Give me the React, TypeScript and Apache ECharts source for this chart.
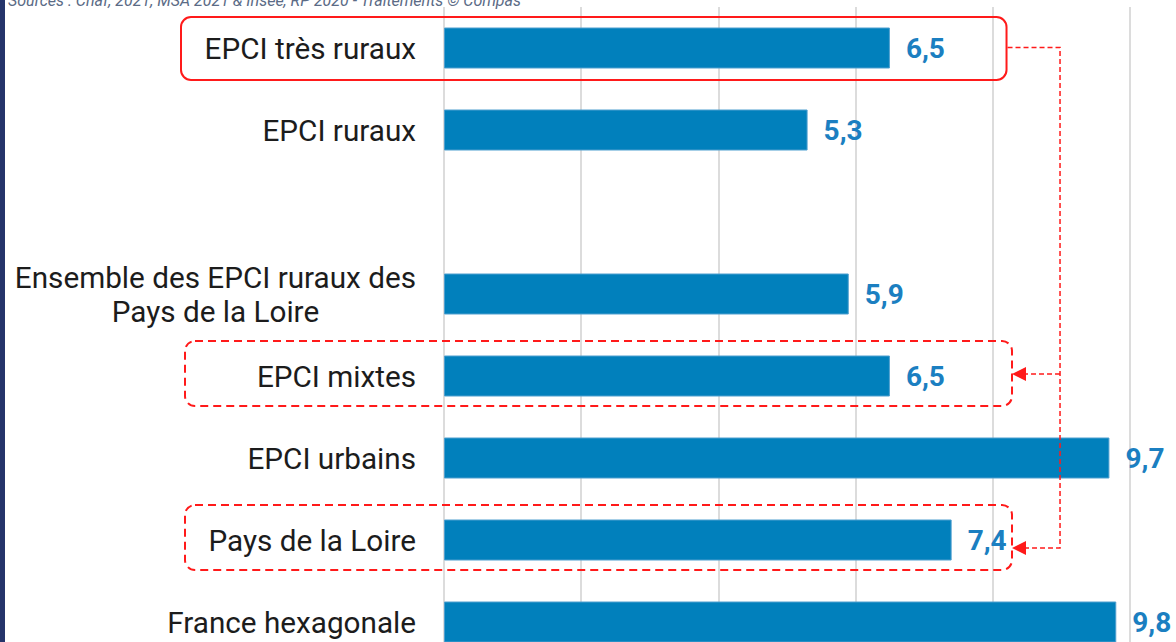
import React, { useEffect, useRef } from "react";
import * as echarts from "echarts";

const categories = [
  "EPCI très ruraux",
  "EPCI ruraux",
  "",
  "Ensemble des EPCI ruraux des\nPays de la Loire",
  "EPCI mixtes",
  "EPCI urbains",
  "Pays de la Loire",
  "France hexagonale",
];
const values: (number | null)[] = [6.5, 5.3, null, 5.9, 6.5, 9.7, 7.4, 9.8];
const sourceText = "Sources : Cnaf, 2021, MSA 2021 & Insee, RP 2020 - Traitements © Compas";
const xMin = 0;
const xMax = 10;
const xInterval = 2;

export default function App() {
  const ref = useRef<HTMLDivElement>(null);
  useEffect(() => {
    if (!ref.current) return;
    const chart = echarts.init(ref.current, null, { renderer: "svg" });
    chart.setOption({
      animation: false,
      backgroundColor: "#ffffff",
      grid: {
        left: 444,
        top: 7,
        width: 686,
        height: 656,
        containLabel: false,
        outerBoundsMode: "none",
      },
      xAxis: {
        type: "value",
        min: xMin,
        max: xMax,
        interval: xInterval,
        axisLabel: { show: false },
        axisLine: { show: false },
        axisTick: { show: false },
        splitLine: { show: true, lineStyle: { color: "#dcdcdc", width: 2 } },
      },
      yAxis: {
        type: "category",
        inverse: true,
        data: categories,
        axisLine: { show: false },
        axisTick: { show: false },
        axisLabel: {
          margin: 28,
          color: "#1c1c1c",
          fontSize: 29.7,
          fontFamily: "Roboto",
          lineHeight: 34,
          formatter: (v: string) =>
            v.includes("\n")
              ? v
                  .split("\n")
                  .map((s) => "{c|" + s + "}")
                  .join("\n")
              : v,
          rich: {
            c: { align: "center", fontSize: 29.7, fontFamily: "Roboto", color: "#1c1c1c", lineHeight: 34 },
          },
        },
      },
      series: [
        {
          type: "bar",
          data: values,
          barWidth: 41,
          itemStyle: { color: "#0180bc", borderColor: "#4f9fcf", borderWidth: 1 },
          label: {
            show: true,
            position: "right",
            distance: 16,
            color: "#1b7fc1",
            fontSize: 28,
            fontWeight: "bold",
            fontFamily: "Roboto",
            formatter: (p: any) => String(p.value).replace(".", ","),
          },
        },
      ],
    });

    const px = (v: number, c: number) => chart.convertToPixel({ gridIndex: 0 }, [v, c]) as number[];
    const x0 = px(0, 0)[0];
    const c0 = px(0, 0)[1];
    const cMix = px(0, 4)[1];
    const cPdl = px(0, 6)[1];
    const boxLeft = x0 - 263;
    const boxRightSolid = px(8.2, 0)[0];
    const boxRightDash = px(8.28, 0)[0];
    const connX = px(8.98, 0)[0];
    const red = "#ff1a1a";

    const arrow = (tipX: number, y: number) => ({
      type: "polygon",
      shape: { points: [[tipX, y], [tipX + 14, y - 7], [tipX + 14, y + 7]] },
      style: { fill: red },
      z: 100,
    });

    chart.setOption({
      graphic: [
        { type: "rect", shape: { x: 0, y: 0, width: 5, height: 642 }, style: { fill: "#25346a" }, z: 100 },
        {
          type: "text",
          x: 8,
          y: 0,
          style: {
            text: sourceText,
            fontSize: 16,
            fontStyle: "italic",
            fontFamily: "Roboto",
            fill: "#5b6b86",
            verticalAlign: "middle",
          },
          z: 100,
        },
        {
          type: "rect",
          shape: { x: boxLeft, y: c0 - 31, width: boxRightSolid - boxLeft, height: 63, r: 10 },
          style: { fill: "none", stroke: red, lineWidth: 2 },
          z: 100,
        },
        {
          type: "rect",
          shape: { x: boxLeft + 4, y: cMix - 35, width: boxRightDash - boxLeft - 4, height: 65, r: 10 },
          style: { fill: "none", stroke: red, lineWidth: 2, lineDash: [8, 5] },
          z: 100,
        },
        {
          type: "rect",
          shape: { x: boxLeft + 4, y: cPdl - 35, width: boxRightDash - boxLeft - 4, height: 65, r: 10 },
          style: { fill: "none", stroke: red, lineWidth: 2, lineDash: [8, 5] },
          z: 100,
        },
        {
          type: "polyline",
          shape: {
            points: [
              [boxRightSolid + 1, c0 - 0.5],
              [connX, c0 - 0.5],
              [connX, cPdl + 8],
              [boxRightDash + 12, cPdl + 8],
            ],
          },
          style: { fill: "none", stroke: red, lineWidth: 1.5, lineDash: [5, 3] },
          z: 100,
        },
        {
          type: "line",
          shape: { x1: connX, y1: cMix - 2, x2: boxRightDash + 12, y2: cMix - 2 },
          style: { stroke: red, lineWidth: 1.5, lineDash: [5, 3] },
          z: 100,
        },
        arrow(boxRightDash, cMix - 2),
        arrow(boxRightDash, cPdl + 8),
      ],
    });
    return () => chart.dispose();
  }, []);
  return <div ref={ref} style={{ position: "fixed", left: 0, top: 0, width: 1176, height: 642 }} />;
}
